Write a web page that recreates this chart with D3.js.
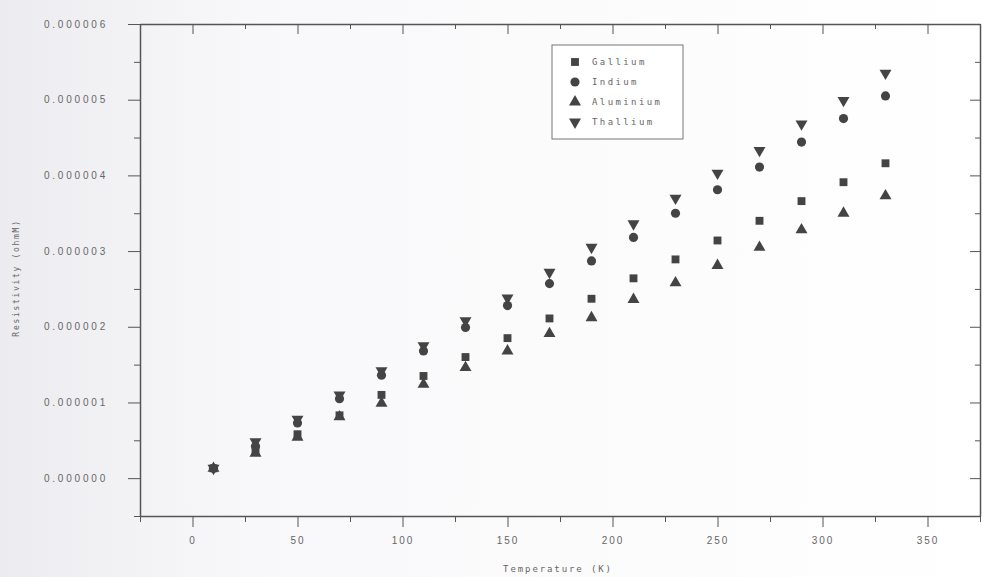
<!DOCTYPE html>
<html>
<head>
<meta charset="utf-8">
<script src="https://cdn.jsdelivr.net/npm/d3@7"></script>
<style>
  body { margin: 0; background: #fff; }
  svg { display: block; font-family: 'DejaVu Sans Mono', monospace; }
  .axis text { fill: #666; font-size: 10px; letter-spacing: 2.8px; }
  .axis.x text { letter-spacing: 2px; }
  .axis path, .axis line { stroke: #555; }
</style>
</head>
<body>
<script>
const width = 982;
const height = 577;
const margin = { top: 24, left: 140, right: 2, bottom: 61 };

const temperature = [10, 30, 50, 70, 90, 110, 130, 150, 170, 190, 210, 230, 250, 270, 290, 310, 330];
const gallium   = [0.13, 0.37, 0.58, 0.83, 1.10, 1.35, 1.60, 1.85, 2.11, 2.37, 2.64, 2.89, 3.14, 3.40, 3.66, 3.91, 4.16];
const indium    = [0.13, 0.42, 0.73, 1.05, 1.36, 1.68, 1.99, 2.28, 2.57, 2.87, 3.18, 3.50, 3.81, 4.11, 4.44, 4.75, 5.05];
const aluminium = [0.13, 0.33, 0.54, 0.81, 0.99, 1.24, 1.46, 1.68, 1.91, 2.12, 2.36, 2.58, 2.81, 3.05, 3.28, 3.50, 3.73];
const thallium  = [0.13, 0.48, 0.78, 1.10, 1.42, 1.75, 2.08, 2.38, 2.72, 3.05, 3.36, 3.70, 4.03, 4.33, 4.68, 4.99, 5.35];
const seriesNames = ['Gallium', 'Indium', 'Aluminium', 'Thallium'];
const xTicks = [0, 50, 100, 150, 200, 250, 300, 350];
const yTicks = [0, 1, 2, 3, 4, 5, 6].map(v => v * 1e-6);

const series = [
  { name: seriesNames[0], values: gallium, symbol: d3.symbolSquare, size: 62, rotate: 0 },
  { name: seriesNames[1], values: indium, symbol: d3.symbolCircle, size: 66, rotate: 0 },
  { name: seriesNames[2], values: aluminium, symbol: d3.symbolTriangle, size: 62, rotate: 0 },
  { name: seriesNames[3], values: thallium, symbol: d3.symbolTriangle, size: 62, rotate: 180 },
];

const svg = d3.select('body')
  .append('svg')
    .attr('width', width)
    .attr('height', height)
    .attr('viewBox', [0, 0, width, height].join(' '));

// faint scanned-paper shading on the left
const grad = svg.append('defs').append('linearGradient').attr('id', 'paper');
grad.append('stop').attr('offset', '0%').attr('stop-color', '#ececf0');
grad.append('stop').attr('offset', '25%').attr('stop-color', '#f8f8fa');
grad.append('stop').attr('offset', '100%').attr('stop-color', '#ffffff');
svg.append('rect').attr('width', width).attr('height', height).attr('fill', 'url(#paper)');

const x = d3.scaleLinear()
  .domain([-25, 375])
  .range([margin.left, width - margin.right]);

const y = d3.scaleLinear()
  .domain([-0.5e-6, 6e-6])
  .range([height - margin.bottom, margin.top]);

const minorX = d3.range(-25, 376, 25).filter(v => v % 50 !== 0);
const minorY = d3.range(-0.5, 6.01, 0.5).filter(v => Math.abs(v % 1) > 0.01).map(v => v * 1e-6);

const bottom = height - margin.bottom;
const right = width - margin.right;

// bottom axis (ticks out)
svg.append('g')
    .attr('class', 'axis x')
    .attr('transform', `translate(0, ${bottom})`)
    .call(d3.axisBottom(x).tickValues(xTicks).tickSizeInner(11).tickSizeOuter(0).tickPadding(10));
svg.append('g')
    .attr('class', 'axis')
    .attr('transform', `translate(0, ${bottom})`)
    .call(d3.axisBottom(x).tickValues(minorX).tickSize(6).tickFormat(''))
    .call(g => g.select('.domain').remove());

// left axis (ticks out)
svg.append('g')
    .attr('class', 'axis')
    .attr('transform', `translate(${margin.left}, 0)`)
    .call(d3.axisLeft(y).tickValues(yTicks).tickSizeInner(12).tickSizeOuter(0).tickPadding(20)
      .tickFormat(d3.format('.6f')));
svg.append('g')
    .attr('class', 'axis')
    .attr('transform', `translate(${margin.left}, 0)`)
    .call(d3.axisLeft(y).tickValues(minorY).tickSize(6).tickFormat(''))
    .call(g => g.select('.domain').remove());

// top axis (ticks in)
svg.append('g')
    .attr('class', 'axis')
    .attr('transform', `translate(0, ${margin.top})`)
    .call(d3.axisBottom(x).tickValues(xTicks).tickSizeInner(10).tickSizeOuter(0).tickFormat(''));
svg.append('g')
    .attr('class', 'axis')
    .attr('transform', `translate(0, ${margin.top})`)
    .call(d3.axisBottom(x).tickValues(minorX).tickSize(5).tickFormat(''))
    .call(g => g.select('.domain').remove());

// right axis (ticks in)
svg.append('g')
    .attr('class', 'axis')
    .attr('transform', `translate(${right}, 0)`)
    .call(d3.axisLeft(y).tickValues(yTicks).tickSizeInner(10).tickSizeOuter(0).tickFormat(''));
svg.append('g')
    .attr('class', 'axis')
    .attr('transform', `translate(${right}, 0)`)
    .call(d3.axisLeft(y).tickValues(minorY).tickSize(5).tickFormat(''))
    .call(g => g.select('.domain').remove());

svg.selectAll('.axis .domain').attr('stroke-width', 1.5);

// axis titles
svg.append('text')
    .attr('x', 558)
    .attr('y', 572)
    .attr('text-anchor', 'middle')
    .attr('fill', '#666')
    .attr('font-size', 9)
    .attr('letter-spacing', 1.9)
    .text('Temperature (K)');

svg.append('text')
    .attr('transform', `translate(19, 278) rotate(-90)`)
    .attr('text-anchor', 'middle')
    .attr('fill', '#666')
    .attr('font-size', 8)
    .attr('letter-spacing', 1.7)
    .text('Resistivity (ohmM)');

// points
const groups = svg.selectAll('.series')
  .data(series)
  .enter()
    .append('g')
    .attr('class', 'series');

groups.selectAll('path')
  .data(s => s.values.map((v, i) => ({ t: temperature[i], v: v * 1e-6, s })))
  .enter()
    .append('path')
    .attr('d', d => d3.symbol(d.s.symbol, d.s.size)())
    .attr('transform', d => `translate(${x(d.t)}, ${y(d.v)}) rotate(${d.s.rotate})`)
    .attr('fill', '#444');

// legend
const legend = svg.append('g').attr('transform', 'translate(552, 45)');
legend.append('rect')
    .attr('width', 131)
    .attr('height', 94)
    .attr('fill', '#fff')
    .attr('stroke', '#777');

const items = legend.selectAll('.item')
  .data(series)
  .enter()
    .append('g')
    .attr('transform', (d, i) => `translate(23, ${17 + i * 20})`);

items.append('path')
    .attr('d', d => d3.symbol(d.symbol, d.size)())
    .attr('transform', d => `rotate(${d.rotate})`)
    .attr('fill', '#444');

items.append('text')
    .attr('x', 17)
    .attr('y', 3)
    .attr('fill', '#666')
    .attr('font-size', 9)
    .attr('letter-spacing', 2.4)
    .text(d => d.name);
</script>
</body>
</html>
